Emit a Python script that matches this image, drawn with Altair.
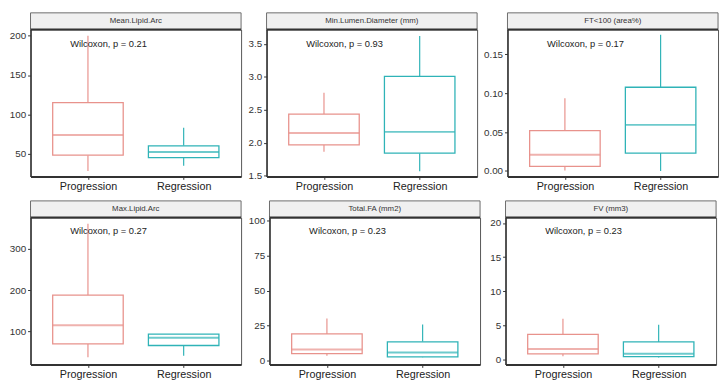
import altair as alt
import pandas as pd

groups = ["Progression", "Regression"]
colors = ["#E8928C", "#2FB3B7"]

titles = ["Mean.Lipid.Arc", "Min.Lumen.Diameter (mm)", "FT<100 (area%)",
          "Max.Lipid.Arc", "Total.FA (mm2)", "FV (mm3)"]
pvalues = ["0.21", "0.93", "0.17", "0.27", "0.23", "0.23"]
label_y = [190, 3.5, 0.163, 342, 92.7, 18.8]

# box statistics per panel: [Progression, Regression]
lower = [[28, 34.7], [1.866, 1.57], [0.0007, 0.0], [38, 41.6], [3.3, 2.2], [0.5, 0.3]]
q1 = [[48, 44.8], [1.97, 1.843], [0.006, 0.023], [70, 66.3], [4.9, 2.6], [0.86, 0.45]]
median = [[73.6, 52], [2.15, 2.166], [0.021, 0.0593], [115, 85], [7.8, 5.6], [1.55, 0.86]]
q3 = [[114.8, 60], [2.437, 3.009], [0.052, 0.1077], [187.6, 94], [18.9, 13.3], [3.7, 2.6]]
upper = [[200, 82.8], [2.76, 3.62], [0.0935, 0.1754], [360, 94], [30, 25.6], [6.0, 5.1]]

domains = [[21, 208], [1.49, 3.72], [-0.007, 0.182], [20.6, 375], [-2.9, 102.2], [-0.7, 20.8]]
ticks = [[50, 100, 150, 200], [1.5, 2.0, 2.5, 3.0, 3.5], [0.0, 0.05, 0.10, 0.15],
         [100, 200, 300], [0, 25, 50, 75, 100], [0, 5, 10, 15, 20]]
formats = ["d", ".1f", ".2f", "d", "d", "d"]

W = 215
H = 150
STRIP = 17
BOXW = 72
FONT = "Liberation Sans"


def panel(i):
    df = pd.DataFrame({
        "group": groups,
        "lower": lower[i], "q1": q1[i], "median": median[i],
        "q3": q3[i], "upper": upper[i],
    })
    x = alt.X("group:N",
              scale=alt.Scale(type="point", padding=0.6, domain=groups),
              axis=alt.Axis(title=None, labelAngle=0, labelFontSize=11,
                            labelColor="#222", tickSize=3, tickColor="#333",
                            domainColor="#333", domainWidth=2, labelPadding=1,
                            labelFont=FONT))
    ysc = alt.Scale(domain=domains[i], nice=False, zero=False)
    yax = alt.Axis(title=None, values=ticks[i], format=formats[i], grid=False,
                   labelFontSize=10, labelColor="#333", tickSize=3,
                   tickColor="#333", domainColor="#333", domainWidth=1.5,
                   labelPadding=2, minExtent=19, maxExtent=19, labelFont=FONT)
    col = alt.Color("group:N", scale=alt.Scale(domain=groups, range=colors), legend=None)
    stroke = alt.Stroke("group:N", scale=alt.Scale(domain=groups, range=colors), legend=None)
    base = alt.Chart(df)

    w_lo = base.mark_rule(strokeWidth=1.2).encode(
        x=x, y=alt.Y("lower:Q", scale=ysc, axis=yax), y2="q1:Q", color=col)
    w_hi = base.mark_rule(strokeWidth=1.2).encode(
        x=x, y=alt.Y("q3:Q", scale=ysc, axis=yax), y2="upper:Q", color=col)
    box = base.mark_bar(size=BOXW, fill="white", strokeWidth=1.3).encode(
        x=x, y=alt.Y("q1:Q", scale=ysc, axis=yax), y2="q3:Q", stroke=stroke)
    med = base.mark_tick(size=BOXW, thickness=2).encode(
        x=x, y=alt.Y("median:Q", scale=ysc, axis=yax), color=col)

    lab = alt.Chart(pd.DataFrame({
        "group": [groups[0]], "y": [label_y[i]],
        "label": ["Wilcoxon, p = " + pvalues[i]],
    })).mark_text(dx=21, fontSize=9.5, color="#222", font=FONT).encode(
        x=x, y=alt.Y("y:Q", scale=ysc, axis=yax), text="label:N")

    sdf = pd.DataFrame({"t": [titles[i]]})
    strip = alt.Chart(sdf).mark_rect(fill="#F0F0F0", stroke="#6A6A6A", strokeWidth=1).encode(
        x=alt.value(0), x2=alt.value(W), y=alt.value(-STRIP), y2=alt.value(0))
    strip_line = alt.Chart(sdf).mark_rule(color="#333", strokeWidth=2).encode(
        x=alt.value(0), x2=alt.value(W), y=alt.value(0))
    strip_txt = alt.Chart(sdf).mark_text(fontSize=8, color="#333", font=FONT).encode(
        x=alt.value(W / 2), y=alt.value(-STRIP / 2), text="t:N")

    return alt.layer(w_lo, w_hi, box, med, lab, strip, strip_line, strip_txt).properties(
        width=W, height=H)


row1 = alt.hconcat(panel(0), panel(1), panel(2), spacing=4)
row2 = alt.hconcat(panel(3), panel(4), panel(5), spacing=4)
chart = alt.vconcat(row1, row2, spacing=8).properties(
    padding={"left": 0, "top": 0, "right": 0, "bottom": 0}
).configure_view(stroke="#555", strokeWidth=1).configure_concat(spacing=4)

chart.save("out.html", embed_options={"renderer": "svg", "actions": False})
